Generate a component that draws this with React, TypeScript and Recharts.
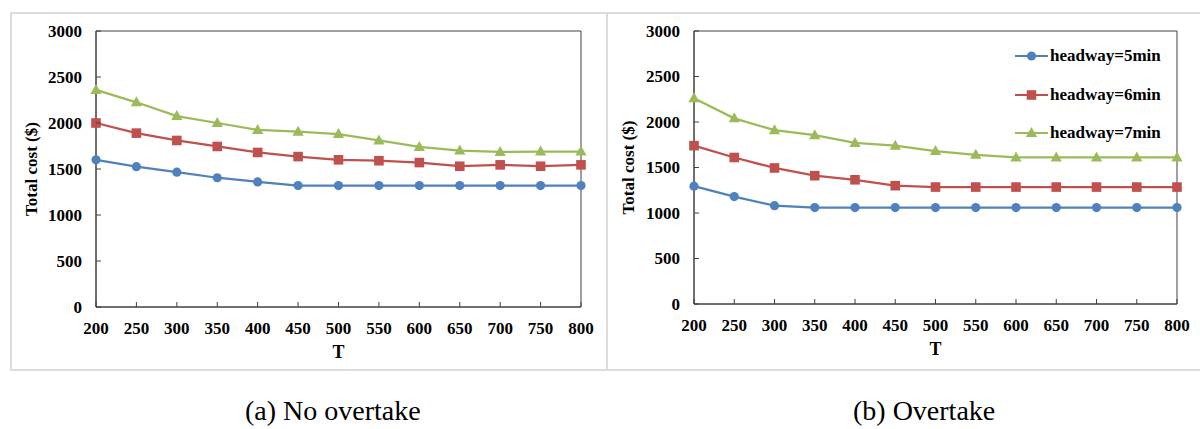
import {
  LineChart,
  Line,
  XAxis,
  YAxis,
  Legend,
  ReferenceArea,
} from 'recharts';

const T_VALUES = [200, 250, 300, 350, 400, 450, 500, 550, 600, 650, 700, 750, 800];
const Y_TICKS = [0, 500, 1000, 1500, 2000, 2500, 3000];

// (a) No overtake
const NO_OVERTAKE_5 = [1600, 1525, 1465, 1405, 1360, 1320, 1320, 1320, 1320, 1320, 1320, 1320, 1320];
const NO_OVERTAKE_6 = [2000, 1890, 1810, 1745, 1680, 1635, 1600, 1590, 1570, 1530, 1545, 1530, 1545];
const NO_OVERTAKE_7 = [2360, 2225, 2075, 2000, 1925, 1905, 1880, 1810, 1740, 1700, 1685, 1690, 1690];

// (b) Overtake
const OVERTAKE_5 = [1295, 1180, 1080, 1060, 1060, 1060, 1060, 1060, 1060, 1060, 1060, 1060, 1060];
const OVERTAKE_6 = [1740, 1610, 1495, 1410, 1365, 1300, 1285, 1285, 1285, 1285, 1285, 1285, 1285];
const OVERTAKE_7 = [2260, 2040, 1910, 1855, 1770, 1740, 1680, 1640, 1610, 1610, 1610, 1610, 1610];

const SERIES = [
  { key: 'h5', name: 'headway=5min', color: '#4F81BD', shape: 'circle' },
  { key: 'h6', name: 'headway=6min', color: '#C0504D', shape: 'square' },
  { key: 'h7', name: 'headway=7min', color: '#9BBB59', shape: 'triangle' },
];

const FONT = '"Liberation Serif", "Times New Roman", serif';
const AXIS_COLOR = '#404040';

const buildData = (a: number[], b: number[], c: number[]) =>
  T_VALUES.map((t, i) => ({ t, h5: a[i], h6: b[i], h7: c[i] }));

const noOvertakeData = buildData(NO_OVERTAKE_5, NO_OVERTAKE_6, NO_OVERTAKE_7);
const overtakeData = buildData(OVERTAKE_5, OVERTAKE_6, OVERTAKE_7);

function Marker({ shape, color, cx, cy }: { shape: string; color: string; cx: number; cy: number }) {
  if (shape === 'circle') return <circle cx={cx} cy={cy} r={4.6} fill={color} />;
  if (shape === 'square') return <rect x={cx - 4.8} y={cy - 4.8} width={9.6} height={9.6} fill={color} />;
  return <polygon points={`${cx},${cy - 6} ${cx + 5.6},${cy + 4} ${cx - 5.6},${cy + 4}`} fill={color} />;
}

const makeDot = (shape: string, color: string) => (props: any) => {
  const { cx, cy, index } = props;
  return (
    <g key={`dot-${shape}-${index}`}>
      <Marker shape={shape} color={color} cx={cx} cy={cy} />
    </g>
  );
};

// ticks are drawn inside the plot area, labels outside
const YTick = (props: any) => {
  const { x, y, payload } = props;
  return (
    <g>
      <line x1={x} y1={y} x2={x + 5} y2={y} stroke={AXIS_COLOR} strokeWidth={1} />
      <text x={x - 14} y={y + 5.5} textAnchor="end" fontFamily={FONT} fontWeight="bold" fontSize={17} fill="#000">
        {payload.value}
      </text>
    </g>
  );
};

const XTick = (props: any) => {
  const { x, y, payload } = props;
  return (
    <g>
      <line x1={x} y1={y} x2={x} y2={y - 5} stroke={AXIS_COLOR} strokeWidth={1} />
      <text x={x} y={y + 27} textAnchor="middle" fontFamily={FONT} fontWeight="bold" fontSize={17} fill="#000">
        {payload.value}
      </text>
    </g>
  );
};

const renderLegend = () => (
  <div style={{ fontFamily: FONT, fontWeight: 'bold', fontSize: 17, color: '#000' }}>
    {SERIES.map((s) => (
      <div key={s.key} style={{ display: 'flex', alignItems: 'center', height: 38.5, whiteSpace: 'nowrap' }}>
        <svg width={35} height={14} style={{ display: 'block' }}>
          <line x1={0} y1={7} x2={33} y2={7} stroke={s.color} strokeWidth={2} />
          <Marker shape={s.shape} color={s.color} cx={16.5} cy={7} />
        </svg>
        <span>{s.name}</span>
      </div>
    ))}
  </div>
);

interface PanelProps {
  data: { t: number; h5: number; h6: number; h7: number }[];
  width: number;
  marginRight: number;
  marginBottom: number;
  yAxisWidth: number;
  showLegend?: boolean;
}

function Panel({ data, width, marginRight, marginBottom, yAxisWidth, showLegend = false }: PanelProps) {
  return (
    <LineChart
      width={width}
      height={359}
      data={data}
      margin={{ top: 19, right: marginRight, left: 0, bottom: marginBottom }}
    >
      <ReferenceArea x1={200} x2={800} y1={0} y2={3000} fill="none" stroke={AXIS_COLOR} strokeWidth={1} ifOverflow="visible" />
      <XAxis
        dataKey="t"
        type="number"
        domain={[200, 800]}
        ticks={T_VALUES}
        height={50}
        tickSize={0}
        tickMargin={0}
        tick={<XTick />}
        axisLine={{ stroke: AXIS_COLOR }}
        interval={0}
        label={{
          value: 'T',
          position: 'insideBottom',
          offset: -1,
          style: { fontFamily: FONT, fontWeight: 'bold', fontSize: 18, fill: '#000' },
        }}
      />
      <YAxis
        type="number"
        domain={[0, 3000]}
        ticks={Y_TICKS}
        width={yAxisWidth}
        tickSize={0}
        tickMargin={0}
        tick={<YTick />}
        axisLine={{ stroke: AXIS_COLOR }}
        interval={0}
        label={{
          value: 'Total cost ($)',
          angle: -90,
          position: 'insideLeft',
          offset: 21,
          style: { fontFamily: FONT, fontWeight: 'bold', fontSize: 17, fill: '#000', textAnchor: 'middle' },
        }}
      />
      {showLegend && (
        <Legend
          layout="vertical"
          align="center"
          verticalAlign="middle"
          content={renderLegend}
          wrapperStyle={{ top: 25, left: 408, width: 180 }}
        />
      )}
      {SERIES.map((s) => (
        <Line
          key={s.key}
          dataKey={s.key}
          name={s.name}
          stroke={s.color}
          strokeWidth={2.25}
          dot={makeDot(s.shape, s.color)}
          activeDot={false}
          isAnimationActive={false}
        />
      ))}
    </LineChart>
  );
}

const frameStyle = {
  position: 'absolute' as const,
  top: 12,
  height: 359,
  border: '2px solid #DCDCDC',
  boxSizing: 'border-box' as const,
};

const captionStyle = {
  position: 'absolute' as const,
  top: 397,
  fontFamily: FONT,
  fontSize: 28,
  lineHeight: '28px',
  color: '#000',
  whiteSpace: 'nowrap' as const,
};

export default function App() {
  return (
    <div style={{ position: 'absolute', left: 0, top: 0, width: 1200, height: 429, background: '#fff', overflow: 'hidden' }}>
      <div style={{ ...frameStyle, left: 10, width: 598 }} />
      <div style={{ ...frameStyle, left: 606, width: 600 }} />
      <div style={{ position: 'absolute', left: 10, top: 12 }}>
        <Panel data={noOvertakeData} width={596} marginRight={25} marginBottom={14} yAxisWidth={86} />
      </div>
      <div style={{ position: 'absolute', left: 607, top: 12 }}>
        <Panel data={overtakeData} width={593} marginRight={23} marginBottom={17} yAxisWidth={87} showLegend />
      </div>
      <div style={{ ...captionStyle, left: 245 }}>(a) No overtake</div>
      <div style={{ ...captionStyle, left: 853 }}>(b) Overtake</div>
    </div>
  );
}
